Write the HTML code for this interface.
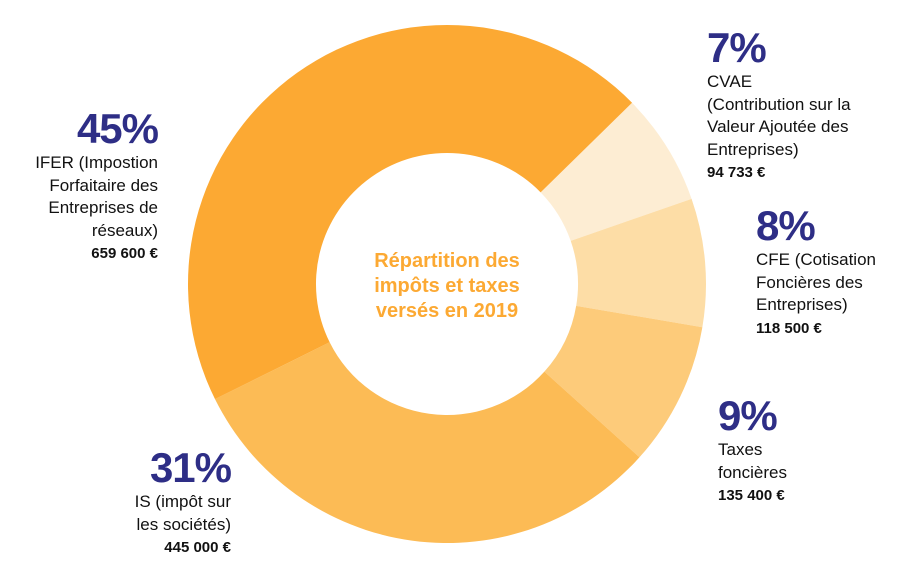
<!DOCTYPE html>
<html><head><meta charset="utf-8"><style>
body{margin:0;background:#fff;width:898px;height:570px;overflow:hidden;position:relative;font-family:"Liberation Sans",sans-serif;color:#111;}
.lab{position:absolute;font-size:17px;line-height:22.5px;}
.r{text-align:right}
.pct{font-size:42px;font-weight:bold;color:#2E2E86;line-height:42px;letter-spacing:-1px;margin-bottom:2px}
.amt{font-weight:bold;font-size:15px}
svg{position:absolute;left:0;top:0}
</style></head><body>
<svg width="898" height="570" viewBox="0 0 898 570"></svg>
<script>
const cx=447,cy=284,R=259,r=131;
const segs=[[-44.4,-19.2,'#FDEDD3'],[-19.2,9.6,'#FDDDA6'],[9.6,42,'#FDCB7A'],[42,153.6,'#FCBB55'],[153.6,315.6,'#FCA933']];
const svg=document.querySelector('svg');let h='';
for(const[a,b,c] of segs){const A=a*Math.PI/180,B=b*Math.PI/180,l=(b-a)>180?1:0;
const p=(rad,t)=>[(cx+rad*Math.cos(t)).toFixed(2),(cy+rad*Math.sin(t)).toFixed(2)].join(',');
h+=`<path fill="${c}" d="M${p(R,A)} A${R},${R} 0 ${l} 1 ${p(R,B)} L${p(r,B)} A${r},${r} 0 ${l} 0 ${p(r,A)} Z"/>`;}
const t=(y,s)=>`<text x="447" y="${y}" text-anchor="middle" font-family="Liberation Sans, sans-serif" font-weight="bold" font-size="20" fill="#FCA933">${s}</text>`;
h+=t(267,'Répartition des')+t(292,'impôts et taxes')+t(317,'versés en 2019');
svg.innerHTML=h;
</script>
<div class="lab r" style="right:740px;top:108px"><div class="pct">45%</div>IFER (Impostion<br>Forfaitaire des<br>Entreprises de<br>réseaux)<br><span class="amt">659 600 €</span></div>
<div class="lab r" style="right:667px;top:447px"><div class="pct">31%</div>IS (impôt sur<br>les sociétés)<br><span class="amt">445 000 €</span></div>
<div class="lab" style="left:707px;top:27px"><div class="pct">7%</div>CVAE<br>(Contribution sur la<br>Valeur Ajoutée des<br>Entreprises)<br><span class="amt">94 733 €</span></div>
<div class="lab" style="left:756px;top:205px"><div class="pct">8%</div>CFE (Cotisation<br>Foncières des<br>Entreprises)<br><span class="amt">118 500 €</span></div>
<div class="lab" style="left:718px;top:395px"><div class="pct">9%</div>Taxes<br>foncières<br><span class="amt">135 400 €</span></div>
</body></html>
